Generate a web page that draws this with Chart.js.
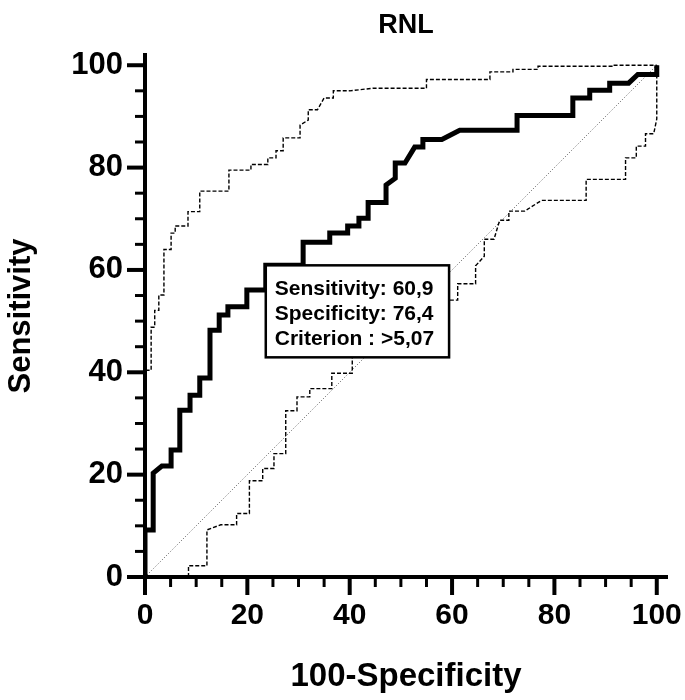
<!DOCTYPE html>
<html>
<head>
<meta charset="utf-8">
<script src="https://cdn.jsdelivr.net/npm/chart.js@4.4.0/dist/chart.umd.min.js"></script>
<style>
  html, body { margin: 0; padding: 0; background: #fff; }
</style>
</head>
<body>
<canvas id="roc" width="685" height="700"></canvas>
<script>
// ROC curve (100-Specificity vs Sensitivity)
const rocX = [0,0,1.6,1.6,3.3,5.1,5.1,6.8,6.8,8.8,8.8,10.7,10.7,12.7,12.7,14.5,14.5,16.2,16.2,19.9,19.9,23.6,23.6,30.9,30.9,36.1,36.1,39.6,39.6,41.8,41.8,43.6,43.6,47.1,47.1,48.9,48.9,50.8,52.7,54.3,54.3,58.0,61.5,72.7,72.7,83.6,83.6,86.9,86.9,90.8,90.8,94.5,96.3,100,100];
const rocY = [0,9.2,9.2,20.3,21.7,21.7,24.8,24.8,32.6,32.6,35.5,35.5,38.9,38.9,48.2,48.2,51.2,51.2,52.8,52.8,56.1,56.1,60.9,60.9,65.4,65.4,67.2,67.2,68.6,68.6,70.1,70.1,73.2,73.2,76.6,77.9,80.9,80.9,84.0,84.0,85.5,85.5,87.3,87.3,90.2,90.2,93.6,93.6,95.1,95.1,96.5,96.5,98.2,98.2,100];

// 95% confidence bounds
const upperX = [0,0,1.2,1.2,1.9,1.9,2.7,2.7,3.7,3.7,5.1,5.1,5.9,5.9,8.4,8.4,10.7,10.7,16.4,16.4,20.7,20.7,24.0,24.0,25.6,25.6,27.0,27.0,30.3,30.3,31.9,31.9,33.7,35.0,36.8,36.8,40.0,44.5,55.0,55.0,67.4,67.4,71.9,71.9,76.8,76.8,91.5,91.5,100];
const upperY = [37,40.4,40.4,48.8,48.8,52.1,52.1,55.1,55.1,64.0,64.0,67.2,67.2,68.6,68.6,71.4,71.4,75.4,75.4,79.5,79.5,80.6,80.6,81.9,81.9,83.3,83.3,85.8,85.8,88.3,89.3,91.3,91.3,93.6,93.6,95.0,95.0,95.5,95.5,97.2,97.2,98.7,98.7,99.2,99.2,99.8,99.8,100,100];
const lowerX = [8.5,8.5,12.1,12.1,14.8,17.9,17.9,20.4,20.4,23.0,23.0,25.2,25.2,27.5,27.5,29.7,29.7,32.2,32.2,36.5,36.5,40.5,40.5,50.0,50.0,61.1,61.1,64.6,64.6,66.3,66.3,68.2,69.3,71.1,71.1,74.2,77.5,86.2,86.2,93.9,93.9,96.0,96.0,97.8,97.8,99.4,100,100];
const lowerY = [0,2.2,2.2,9.2,10.2,10.2,12.4,12.4,18.8,18.8,21.2,21.2,24.1,24.1,32.5,32.5,35.2,35.2,36.8,36.8,39.8,39.8,48.0,48.0,54.1,54.1,57.3,57.3,60.8,62.7,66.0,66.0,69.7,69.7,71.5,71.5,73.6,73.6,77.7,77.7,81.9,81.9,84.2,84.2,86.6,86.6,89.5,100];

// reference diagonal
const diagX = [0, 100];
const diagY = [0, 100];

// axis ticks (labels on every 20)
const tickValues = [0,5,10,15,20,25,30,35,40,45,50,55,60,65,70,75,80,85,90,95,100];

// optimal cut-off
const cutSensitivity = 60.9;
const cutSpecificity = 76.4;
const boxLines = ["Sensitivity: 60,9", "Specificity: 76,4", "Criterion : >5,07"];

const chartTitle = "RNL";
const FONT = "'Liberation Sans', Arial, sans-serif";

const toPoints = (xs, ys) => xs.map((x, i) => ({ x: x, y: ys[i] }));

// tick marks outside the axes, long on majors
const axisTicks = {
  id: "axisTicks",
  afterDraw(chart) {
    const { ctx } = chart;
    const xs = chart.scales.x, ys = chart.scales.y;
    const x0 = xs.getPixelForValue(0), y0 = ys.getPixelForValue(0);
    ctx.save();
    ctx.strokeStyle = "#000";
    tickValues.forEach((v) => {
      const major = v % 20 === 0;
      const len = major ? 18 : 10;
      ctx.lineWidth = major ? 4 : 3;
      const px = xs.getPixelForValue(v);
      ctx.beginPath();
      ctx.moveTo(px, y0);
      ctx.lineTo(px, y0 + len);
      ctx.stroke();
      const py = ys.getPixelForValue(v);
      ctx.beginPath();
      ctx.moveTo(x0, py);
      ctx.lineTo(x0 - len, py);
      ctx.stroke();
    });
    ctx.restore();
  },
};

// title centred over the plot area
const plotTitle = {
  id: "plotTitle",
  afterDraw(chart) {
    const { ctx, chartArea } = chart;
    ctx.save();
    ctx.font = "bold 27px " + FONT;
    ctx.fillStyle = "#000";
    ctx.textAlign = "center";
    ctx.textBaseline = "alphabetic";
    ctx.fillText(chartTitle, (chartArea.left + chartArea.right) / 2, 33);
    ctx.restore();
  },
};

// box with the criterion values, hung from the cut-off point
const criterionBox = {
  id: "criterionBox",
  afterDatasetsDraw(chart) {
    const { ctx } = chart;
    const left = chart.scales.x.getPixelForValue(100 - cutSpecificity);
    const top = chart.scales.y.getPixelForValue(cutSensitivity);
    ctx.save();
    ctx.font = "bold 21px " + FONT;
    const w = Math.max(...boxLines.map((t) => ctx.measureText(t).width)) + 24;
    const h = 92;
    ctx.fillStyle = "#fff";
    ctx.fillRect(left, top, w, h);
    ctx.lineWidth = 2.5;
    ctx.strokeStyle = "#000";
    ctx.strokeRect(left, top, w, h);
    ctx.fillStyle = "#000";
    ctx.textBaseline = "alphabetic";
    boxLines.forEach((t, i) => ctx.fillText(t, left + 9, top + 30 + i * 25));
    ctx.restore();
  },
};

const axisCommon = {
  type: "linear",
  min: 0,
  max: 102,
  grid: { display: false, drawTicks: false },
  border: { display: true, color: "#000", width: 4 },
  afterBuildTicks: (scale) => {
    scale.ticks = tickValues.map((v) => ({ value: v }));
  },
};

new Chart(document.getElementById("roc"), {
  type: "scatter",
  data: {
    datasets: [
      {
        label: "ROC",
        data: toPoints(rocX, rocY),
        showLine: true,
        borderColor: "#000",
        borderWidth: 5,
        pointRadius: 0,
        order: 0,
      },
      {
        label: "Upper",
        data: toPoints(upperX, upperY),
        showLine: true,
        borderColor: "#000",
        borderWidth: 1.4,
        borderDash: [4, 2],
        pointRadius: 0,
        order: 1,
      },
      {
        label: "Lower",
        data: toPoints(lowerX, lowerY),
        showLine: true,
        borderColor: "#000",
        borderWidth: 1.4,
        borderDash: [4, 2],
        pointRadius: 0,
        order: 1,
      },
      {
        label: "Diagonal",
        data: toPoints(diagX, diagY),
        showLine: true,
        borderColor: "#555",
        borderWidth: 1,
        borderDash: [1, 2],
        pointRadius: 0,
        order: 2,
      },
    ],
  },
  options: {
    responsive: false,
    animation: false,
    layout: { padding: { left: 0, right: 18, top: 55, bottom: 0 } },
    plugins: {
      legend: { display: false },
      tooltip: { enabled: false },
      title: { display: false },
    },
    scales: {
      x: {
        ...axisCommon,
        afterFit: (scale) => {
          scale.height = 123;
          scale.paddingLeft = 0;
          scale.paddingRight = 0;
        },
        ticks: {
          color: "#000",
          padding: 21,
          maxRotation: 0,
          autoSkip: false,
          font: { family: FONT, size: 30, weight: "bold" },
          callback: (v) => (v % 20 === 0 ? v : ""),
        },
        title: {
          display: true,
          text: "100-Specificity",
          color: "#000",
          font: { family: FONT, size: 33, weight: "bold" },
          padding: { top: 0, bottom: 3 },
        },
      },
      y: {
        ...axisCommon,
        afterFit: (scale) => {
          scale.width = 145;
          scale.paddingTop = 0;
          scale.paddingBottom = 0;
        },
        ticks: {
          color: "#000",
          padding: 22,
          autoSkip: false,
          font: { family: FONT, size: 31, weight: "bold" },
          callback: (v) => (v % 20 === 0 ? v : ""),
        },
        title: {
          display: true,
          text: "Sensitivity",
          color: "#000",
          font: { family: FONT, size: 31, weight: "bold" },
          padding: { top: 3, bottom: 0 },
        },
      },
    },
  },
  plugins: [axisTicks, criterionBox, plotTitle],
});
</script>
</body>
</html>
